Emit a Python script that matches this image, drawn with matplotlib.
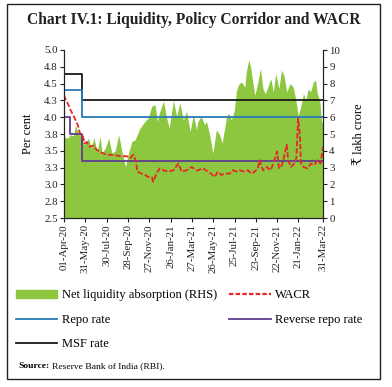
import matplotlib
matplotlib.use("Agg")
import matplotlib.pyplot as plt
import matplotlib.dates as mdates
from matplotlib.patches import Rectangle, Patch
from matplotlib.lines import Line2D
import pandas as pd

plt.rcParams['font.family'] = ['Liberation Serif', 'DejaVu Serif', 'DejaVu Sans']

START = "2020-04-01"
END = "2022-03-31"

# Net liquidity absorption (₹ lakh crore) – day offsets from START
liq_day = [0, 3, 10, 18, 27, 32, 41, 51, 56, 69, 77, 84, 93, 102, 107, 116, 126, 135, 144, 154,
           163, 173, 182, 191, 200, 214, 228, 237, 247, 256, 263, 270, 280, 289, 296, 308, 317,
           326, 336, 345, 355, 364, 373, 377, 386, 396, 401, 410, 419, 429, 438, 445, 457, 463,
           471, 479, 485, 490, 499, 509, 513, 520, 525, 532, 537, 546, 553, 560, 566, 572, 582,
           589, 596, 605, 612, 619, 627, 636, 645, 652, 659, 666, 674, 680, 688, 694, 702, 708,
           713, 720, 724, 729]
liq_val = [4.7, 4.8, 4.75, 4.95, 4.9, 5.5, 5.05, 4.9, 4.35, 4.75, 4.15, 4.8, 3.95, 4.85, 3.85,
           4.15, 4.75, 3.85, 4.0, 4.95, 3.95, 3.05, 3.9, 4.55, 4.65, 5.35, 5.75, 5.95, 6.65,
           6.75, 5.75, 6.35, 6.95, 5.95, 5.35, 7.0, 6.05, 6.85, 5.85, 6.35, 5.15, 6.15, 5.25,
           5.75, 6.05, 5.55, 5.75, 4.95, 3.85, 5.25, 4.95, 4.45, 5.95, 6.25, 5.85, 6.35, 7.5,
           7.9, 8.1, 7.8, 8.7, 9.4, 9.0, 8.0, 7.3, 8.1, 8.9, 7.7, 7.4, 7.7, 8.3, 7.5, 8.6, 7.7,
           8.8, 8.5, 7.5, 8.0, 7.8, 7.1, 6.1, 6.6, 7.4, 7.0, 7.7, 7.5, 8.1, 8.2, 7.4, 7.0, 5.9,
           5.5]

# WACR (per cent)
wacr_day = [0, 5, 11, 18, 26, 33, 39, 45, 52, 58, 64, 72, 83, 93, 107, 121, 140, 159, 177, 186,
            195, 203, 206, 219, 228, 237, 247, 251, 261, 270, 280, 294, 308, 322, 331, 345, 359,
            373, 377, 391, 405, 414, 424, 433, 443, 452, 466, 476, 485, 494, 508, 518, 527, 537,
            546, 550, 560, 570, 582, 591, 600, 605, 614, 627, 631, 639, 648, 654, 659, 664, 667,
            674, 685, 695, 705, 713, 722, 729]
wacr_val = [4.33, 4.26, 4.2, 4.11, 4.03, 3.95, 3.88, 3.76, 3.74, 3.61, 3.63, 3.56, 3.58, 3.51,
            3.47, 3.44, 3.44, 3.42, 3.42, 3.39, 3.44, 3.34, 3.19, 3.16, 3.14, 3.11, 3.11, 3.04,
            3.17, 3.24, 3.21, 3.19, 3.21, 3.31, 3.19, 3.21, 3.26, 3.21, 3.21, 3.24, 3.19, 3.16,
            3.11, 3.19, 3.14, 3.16, 3.16, 3.21, 3.19, 3.21, 3.19, 3.21, 3.16, 3.19, 3.24, 3.36,
            3.21, 3.26, 3.21, 3.34, 3.49, 3.24, 3.29, 3.59, 3.36, 3.26, 3.31, 3.39, 3.98, 3.73,
            3.31, 3.26, 3.24, 3.31, 3.29, 3.36, 3.31, 3.56]

# Policy rates (step changes)
rate_dates = ["2020-04-01", "2020-04-17", "2020-05-22", "2022-03-31"]
repo_rate = [4.40, 4.40, 4.00, 4.00]
reverse_repo_rate = [4.00, 3.75, 3.35, 3.35]
msf_rate = [4.65, 4.65, 4.25, 4.25]

xtick_dates = ["2020-04-01", "2020-05-31", "2020-07-30", "2020-09-28", "2020-11-27", "2021-01-26",
               "2021-03-27", "2021-05-26", "2021-07-25", "2021-09-23", "2021-11-22", "2022-01-21",
               "2022-03-31"]
left_ticks = [2.5, 2.75, 3.0, 3.25, 3.5, 3.75, 4.0, 4.25, 4.5, 4.75, 5.0]
left_tick_labels = ["2.5", "2.8", "3.0", "3.3", "3.5", "3.8", "4.0", "4.3", "4.5", "4.8", "5.0"]
right_ticks = list(range(0, 11))

start = pd.Timestamp(START)
liq_x = [start + pd.Timedelta(days=d) for d in liq_day]
wacr_x = [start + pd.Timedelta(days=d) for d in wacr_day]
rate_x = pd.to_datetime(rate_dates)

GREEN = "#8DC63F"
BLUE = "#2A7AB8"
PURPLE = "#5E3C8F"
RED = "#E8262A"
BLACK = "#1A1A1A"

fig = plt.figure(figsize=(3.92, 3.87), dpi=100)
ax = fig.add_axes([64/392, 1-218/387, (323-64)/392, (218-50)/387])
ax2 = ax.twinx()
ax.set_zorder(ax2.get_zorder() + 1)
ax.patch.set_visible(False)

ax2.fill_between(liq_x, liq_val, 0, color=GREEN, lw=0)
ax2.set_ylim(0, 10)
ax2.set_yticks(right_ticks)

ax.step(rate_x, msf_rate, where="post", color=BLACK, lw=1.3)
ax.step(rate_x, repo_rate, where="post", color=BLUE, lw=1.3)
ax.step(rate_x, reverse_repo_rate, where="post", color=PURPLE, lw=1.3)
ax.plot(wacr_x, wacr_val, color=RED, lw=1.3, linestyle=(0, (3, 1.2)))

ax.set_ylim(2.5, 5.0)
ax.set_yticks(left_ticks)
ax.set_yticklabels(left_tick_labels)
ax.set_xlim(pd.Timestamp(START), pd.Timestamp(END))
ax.set_xticks(pd.to_datetime(xtick_dates))
ax.xaxis.set_major_formatter(mdates.DateFormatter("%d-%b-%y"))
for lbl in ax.get_xticklabels():
    lbl.set_rotation(90)

for a in (ax, ax2):
    a.spines['top'].set_visible(False)
    a.tick_params(labelsize=7.8, length=3, width=0.8, pad=1.5, colors="#222222")
    for s in a.spines.values():
        s.set_color("#222222")
        s.set_linewidth(0.8)

ax.set_ylabel("Per cent", fontsize=9, labelpad=7)
ax2.set_ylabel("₹ lakh crore", fontsize=9, labelpad=9)

fig.text(0.493, 0.948, "Chart IV.1: Liquidity, Policy Corridor and WACR", ha="center", va="center",
         fontsize=11.2, fontweight="bold", color="#222222")

handles = [Patch(color=GREEN), Line2D([], [], color=BLUE, lw=1.3), Line2D([], [], color=BLACK, lw=1.3),
           Line2D([], [], color=RED, lw=1.6, linestyle=(0, (2, 1))), Line2D([], [], color=PURPLE, lw=1.3)]
labels = ["Net liquidity absorption (RHS)", "Repo rate", "MSF rate", "WACR", "Reverse repo rate"]
fig.legend(handles, labels, ncol=2, loc="upper left", bbox_to_anchor=(0.041, 0.252), frameon=False,
           fontsize=9, handlelength=3.3, handleheight=0.6, handletextpad=0.35, columnspacing=1.0,
           labelspacing=0.98, borderaxespad=0, borderpad=0)

t1 = fig.text(18/392, 1-366/387, "Source:", fontsize=6.8, va="center", ha="left", fontweight="bold")
fig.canvas.draw()
bb = t1.get_window_extent()
x_after = (bb.x1 + 2.5) / fig.bbox.width
fig.text(x_after, 1-366/387, "Reserve Bank of India (RBI).", fontsize=6.8, va="center", ha="left")

fig.add_artist(Rectangle((7/392, 1-379/387), 373/392, 375/387, transform=fig.transFigure,
                         fill=False, edgecolor="#222222", lw=1.0))

fig.savefig("out.png", dpi=100)
